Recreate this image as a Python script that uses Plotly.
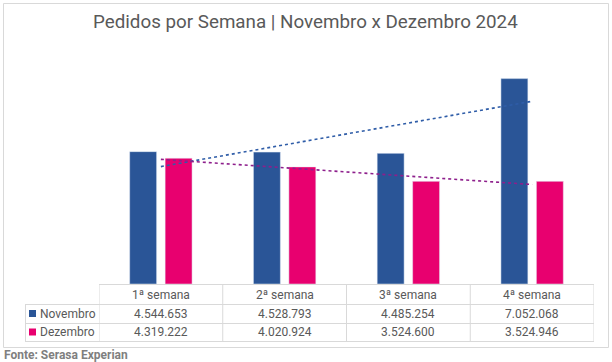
import numpy as np
import plotly.graph_objects as go

categories = ["1ª semana", "2ª semana", "3ª semana", "4ª semana"]
series_names = ["Novembro", "Dezembro"]
novembro = [4544653, 4528793, 4485254, 7052068]
dezembro = [4319222, 4020924, 3524600, 3524946]
title_text = "Pedidos por Semana | Novembro x Dezembro 2024"
source_text = "Fonte: Serasa Experian"

C_NOV = "#2A5597"
C_DEZ = "#E8006F"
C_NOV_T = "#2F5DA8"
C_DEZ_T = "#8E1F8C"
GRID = "#D9D9D9"
TXT = "#595959"
FONT = "Roboto"

W, H = 612, 362
L, R, T, B = 99, 594, 51, 284  # plot area in pixels


def fx(p):
    return (p - L) / (R - L)


def fy(p):
    return (B - p) / (B - T)


def fmt(v):
    return f"{v:,}".replace(",", ".")


xs = list(range(len(categories)))
fig = go.Figure()
fig.add_trace(go.Bar(x=xs, y=novembro, name=series_names[0], marker_color=C_NOV))
fig.add_trace(go.Bar(x=xs, y=dezembro, name=series_names[1], marker_color=C_DEZ))

for vals, col in ((novembro, C_NOV_T), (dezembro, C_DEZ_T)):
    k, b = np.polyfit(xs, vals, 1)
    fig.add_trace(go.Scatter(x=[xs[0], xs[-1]], y=[b + k * xs[0], b + k * xs[-1]],
                             mode="lines", line=dict(color=col, width=1.6, dash="dot"),
                             showlegend=False, hoverinfo="skip"))

shapes = []
line = dict(color=GRID, width=1)
# outer border
shapes.append(dict(type="rect", xref="paper", yref="paper", x0=fx(3.5), x1=fx(608.5),
                   y0=fy(347.5), y1=fy(3.5), line=dict(color="#D9D9D9", width=1)))
# table horizontal lines
shapes.append(dict(type="line", xref="paper", yref="paper", x0=fx(99), x1=fx(594), y0=fy(284.5), y1=fy(284.5), line=line))
for py in (304.5, 323.5, 341.5):
    shapes.append(dict(type="line", xref="paper", yref="paper", x0=fx(25), x1=fx(594), y0=fy(py), y1=fy(py), line=line))
# vertical lines
shapes.append(dict(type="line", xref="paper", yref="paper", x0=fx(25.5), x1=fx(25.5), y0=fy(304.5), y1=fy(341.5), line=line))
for i in range(len(categories) + 1):
    xv = -0.5 + i
    shapes.append(dict(type="line", xref="x", yref="paper", x0=xv, x1=xv, y0=fy(284.5), y1=fy(341.5), line=line))

annotations = []
row_y = [fy(294.5), fy(313.5), fy(332)]
TS = 12
for i, c in enumerate(categories):
    annotations.append(dict(x=i, y=row_y[0], xref="x", yref="paper", text=c, showarrow=False,
                            xanchor="center", yanchor="middle",
                            font=dict(family=FONT, size=TS, color=TXT)))
for r, (vals, name, col) in enumerate(((novembro, series_names[0], C_NOV), (dezembro, series_names[1], C_DEZ))):
    yy = row_y[r + 1]
    for i, v in enumerate(vals):
        annotations.append(dict(x=i, y=yy, xref="x", yref="paper", text=fmt(v), showarrow=False,
                                xanchor="center", yanchor="middle",
                                font=dict(family=FONT, size=TS, color=TXT)))
    annotations.append(dict(x=fx(37.5), y=yy, xref="paper", yref="paper", text=name, showarrow=False,
                            xanchor="left", yanchor="middle", font=dict(family=FONT, size=TS, color=TXT)))
    pyc = B - yy * (B - T)
    shapes.append(dict(type="rect", xref="paper", yref="paper", x0=fx(29), x1=fx(36),
                       y0=fy(pyc + 3.5), y1=fy(pyc - 3.5), fillcolor=col, line=dict(width=0)))

annotations.append(dict(x=fx(305), y=fy(22), xref="paper", yref="paper", text=title_text, showarrow=False,
                        xanchor="center", yanchor="middle", font=dict(family=FONT, size=18.8, color=TXT)))
annotations.append(dict(x=fx(2), y=fy(355), xref="paper", yref="paper", text="<b>" + source_text + "</b>",
                        showarrow=False, xanchor="left", yanchor="middle",
                        font=dict(family=FONT, size=12, color="#7F7F7F")))

fig.update_layout(
    width=W, height=H,
    margin=dict(l=L, r=W - R, t=T, b=H - B, pad=0),
    paper_bgcolor="white", plot_bgcolor="white",
    barmode="group", bargap=0.427, bargroupgap=0.24,
    showlegend=False,
    xaxis=dict(range=[-0.5, 3.5], showticklabels=False, showgrid=False, zeroline=False, fixedrange=True),
    yaxis=dict(range=[0, 8000000], showticklabels=False, showgrid=False, zeroline=False, fixedrange=True),
    shapes=shapes, annotations=annotations,
    font=dict(family=FONT),
)

fig.write_html("out.html", config={"displayModeBar": False},
               post_script="document.body.style.margin='0';document.body.style.overflow='hidden';")
